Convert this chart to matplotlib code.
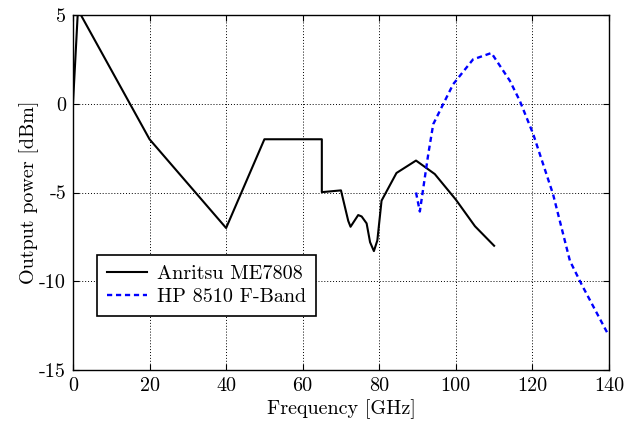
import matplotlib
matplotlib.use('Agg')
import matplotlib.pyplot as plt

# Anritsu ME7808 measured output power
anritsu_f = [0, 1.3, 20, 40, 50, 65, 65, 70, 71.9, 72.5, 74.5, 75.4, 76.7, 77.6, 78.6, 79.5, 80.6, 84.5, 89.6, 94.5, 100, 105, 110]
anritsu_p = [0, 5.3, -2, -7, -2, -2, -4.98, -4.88, -6.6, -6.93, -6.27, -6.35, -6.74, -7.8, -8.3, -7.7, -5.46, -3.9, -3.2, -3.96, -5.4, -6.9, -8.0]

# HP 8510 F-Band output power
hp_f = [89.6, 90.6, 92.8, 94.1, 96.7, 99.3, 104.5, 109.3, 114.1, 116.7, 120.2, 125.4, 129.8, 132.9, 139.8]
hp_p = [-5.0, -6.07, -2.84, -1.15, -0.02, 1.1, 2.5, 2.86, 1.3, 0.17, -1.7, -5.1, -8.85, -10.2, -13.0]

plt.rcParams['font.family'] = 'serif'
plt.rcParams['font.serif'] = ['cmr10']
plt.rcParams['mathtext.fontset'] = 'cm'
plt.rcParams['axes.unicode_minus'] = False
plt.rcParams['axes.formatter.use_mathtext'] = False

fig = plt.figure(figsize=(6.39, 4.23), dpi=100)
ax = fig.add_axes([0.1142, 0.1253, 0.8388, 0.8392])

ax.plot(anritsu_f, anritsu_p, color='black', lw=1.5, label='Anritsu ME7808')
ax.plot(hp_f, hp_p, color='blue', lw=1.7, ls=(0, (2.2, 1.6)), label='HP 8510 F-Band')

ax.set_xlim(0, 140)
ax.set_ylim(-15, 5)
ax.set_xticks(range(0, 141, 20))
ax.set_yticks(range(-15, 6, 5))
ax.grid(True, color='black', ls=(0, (1, 2)), lw=0.7)
ax.tick_params(direction='in', top=True, right=True, labelsize=14.5, length=4, pad=5)
for s in ax.spines.values():
    s.set_linewidth(1.0)

ax.set_xlabel('Frequency [GHz]', fontsize=14.5, labelpad=3)
ax.set_ylabel('Output power [dBm]', fontsize=14.5, labelpad=0)

leg = ax.legend(loc='lower left', bbox_to_anchor=(0.045, 0.152), fontsize=14.5,
                fancybox=False, framealpha=1, edgecolor='black', borderaxespad=0,
                handlelength=2.0, handletextpad=0.45, borderpad=0.5, labelspacing=0.25)
leg.get_frame().set_linewidth(1.2)

fig.savefig('out.png', dpi=100)
